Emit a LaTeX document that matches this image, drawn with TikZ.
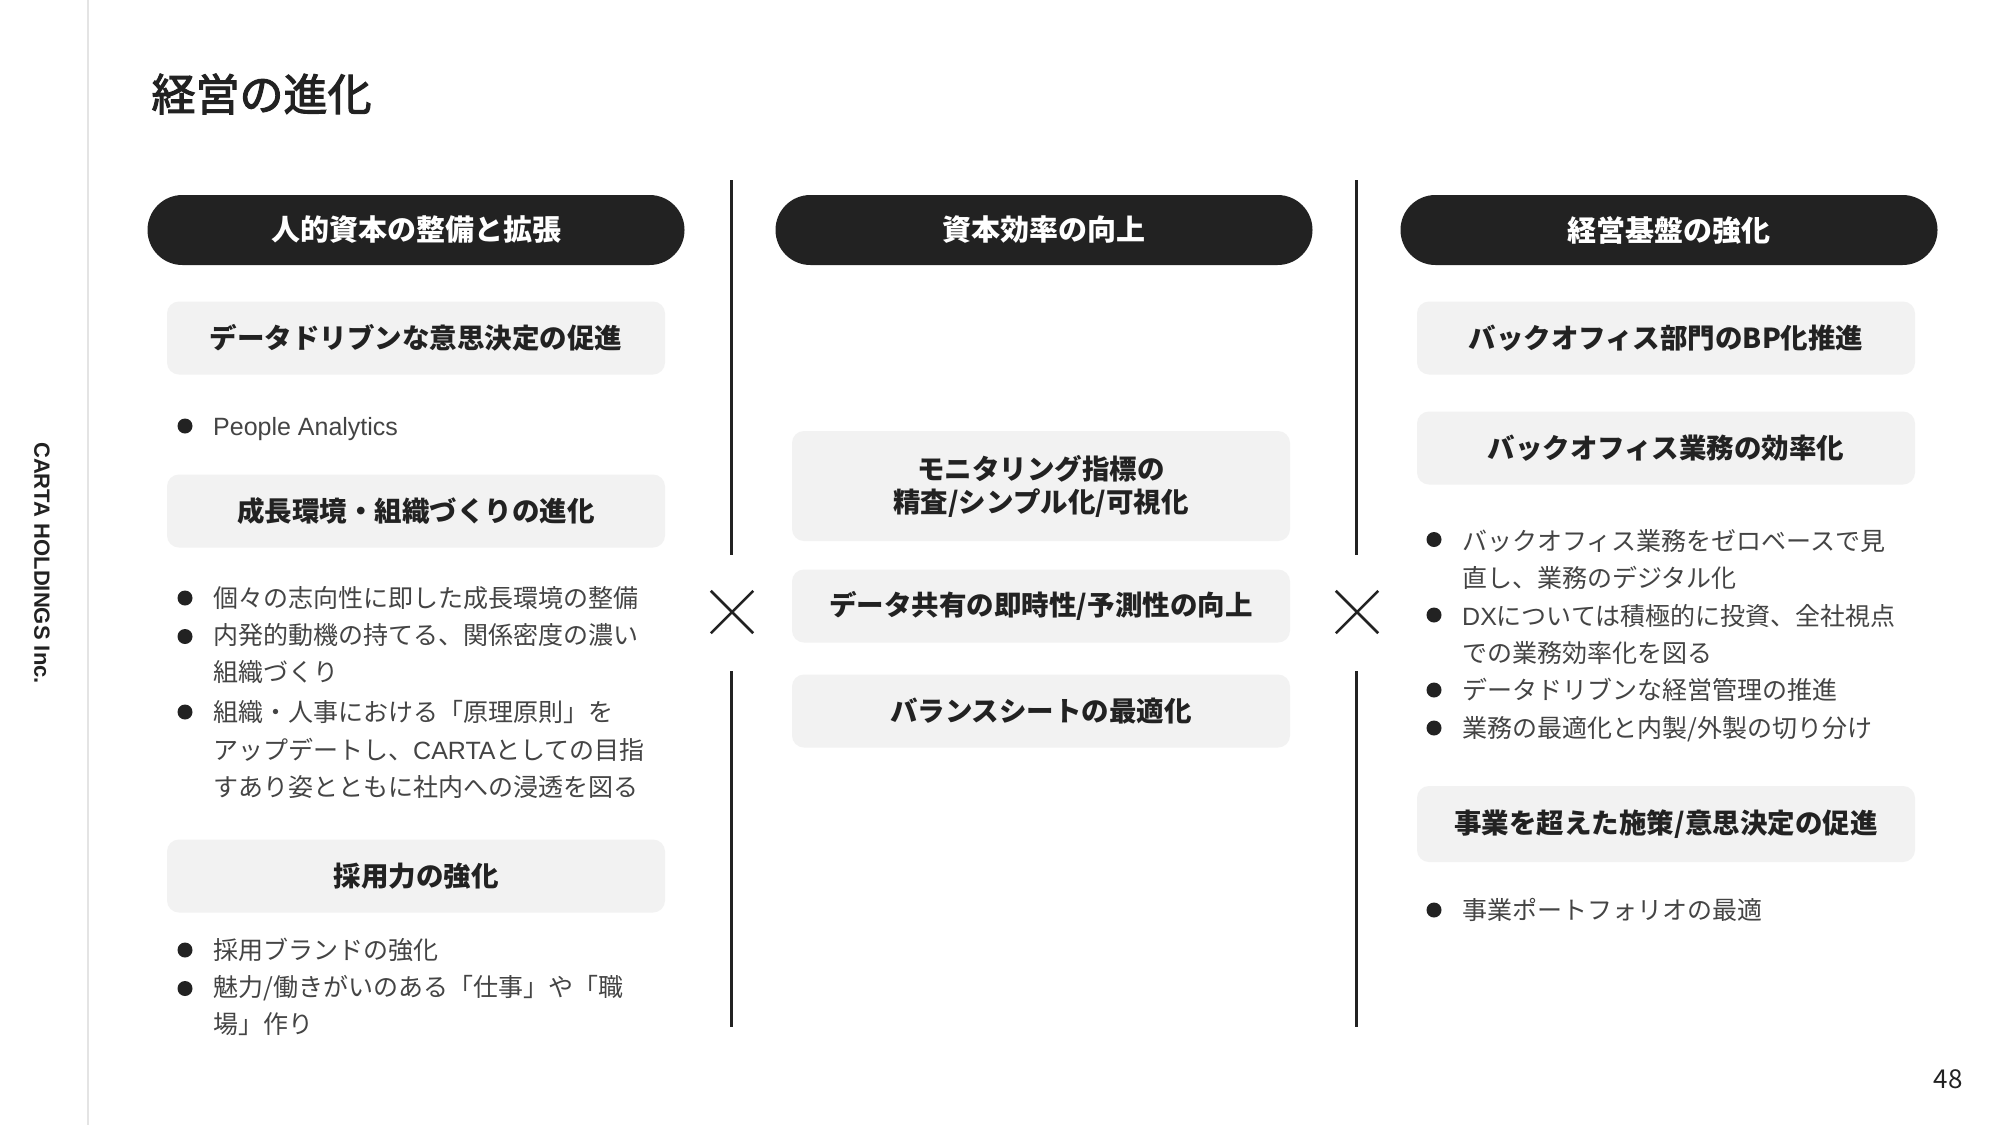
\documentclass[tikz,border=0pt]{standalone}
\usepackage{fontspec}
\setmainfont{Noto Sans CJK JP}
\newfontfamily\latin{Liberation Sans}
\newfontfamily\titlefont[FakeBold=2.5]{Noto Sans CJK JP}
\definecolor{ink}{HTML}{222222}
\definecolor{txt}{HTML}{444444}
\definecolor{boxgray}{HTML}{F2F2F2}
\definecolor{rulegray}{HTML}{E4E4E4}
\tikzset{
  pill/.style={fill=ink, text=white, rounded corners=34.9pt, minimum width=537pt,
    minimum height=70pt, font=\fontsize{29}{35}\selectfont\bfseries},
  tag/.style={fill=boxgray, rounded corners=12pt, minimum width=498pt,
    minimum height=73pt, text=ink, align=center,
    font=\fontsize{27.5}{33}\selectfont\bfseries},
  bul/.style={anchor=base west, align=left, text=txt, inner sep=0pt,
    font=\fontsize{25}{37.5}\selectfont},
  dot/.style={circle, fill=ink, inner sep=0pt, minimum size=15pt},
  divider/.style={draw=ink, line width=3pt},
}
\begin{document}
\begin{tikzpicture}[x=1pt,y=-1pt]
    \fill[white] (0,0) rectangle (2000,1125);
    \useasboundingbox (0,0) rectangle (2000,1125);
    % Side band
    \draw[rulegray, line width=2pt] (88,0) -- (88,1125);
    \node[rotate=-90, text=ink, font=\latin\fontsize{22}{26}\selectfont\bfseries] (corp) at (42,563) {CARTA HOLDINGS Inc.};
    \node[anchor=west, text=ink, font=\titlefont\fontsize{44}{50}\selectfont] (title) at (148,94) {経営の進化};
    \node[text=ink, font=\fontsize{26}{30}\selectfont] (page) at (1948,1079) {48};
    % Headers
    \node[pill] (hl) at (416,230) {人的資本の整備と拡張};
    \node[pill] (hm) at (1044,230) {資本効率の向上};
    \node[pill] (hr) at (1669,230) {経営基盤の強化};
    % Dividers
    \coordinate (d1a) at (731,180); \coordinate (d1b) at (731,555);
    \coordinate (d1c) at (731,671); \coordinate (d1d) at (731,1027);
    \coordinate (d2a) at (1356,180); \coordinate (d2b) at (1356,555);
    \coordinate (d2c) at (1356,671); \coordinate (d2d) at (1356,1027);
    \draw[divider] (d1a) -- (d1b) (d1c) -- (d1d);
    \draw[divider] (d2a) -- (d2b) (d2c) -- (d2d);
    \node[inner sep=0pt, minimum size=42pt] (x1) at (732,612) {};
    \node[inner sep=0pt, minimum size=42pt] (x2) at (1357,612) {};
    \draw[ink, line width=2.5pt] (x1.north west) -- (x1.south east) (x1.north east) -- (x1.south west);
    \draw[ink, line width=2.5pt] (x2.north west) -- (x2.south east) (x2.north east) -- (x2.south west);
    % Left column (multi-line texts sit on the baseline of their last line)
    \node[tag] (l1) at (416,338) {データドリブンな意思決定の促進};
    \node[dot] (l1p) at (185,426) {};
    \node[bul] (l1t) at (213,435.5) {\latin People Analytics};
    \node[tag] (l2) at (416,511) {成長環境・組織づくりの進化};
    \node[dot] (l2p) at (185,598) {};
    \node[bul] (l2t) at (213,607.5) {個々の志向性に即した成長環境の整備};
    \node[dot] (l2q) at (185,636.5) {};
    \node[bul] (l2u) at (213,681.5) {内発的動機の持てる、関係密度の濃い\\組織づくり};
    \node[dot] (l2r) at (185,712) {};
    \node[bul] (l2v) at (213,796.5) {組織・人事における「原理原則」を\\アップデートし、{\latin CARTA}としての目指\\すあり姿とともに社内への浸透を図る};
    \node[tag] (l3) at (416,876) {採用力の強化};
    \node[dot] (l3p) at (185,950) {};
    \node[bul] (l3t) at (213,959.5) {採用ブランドの強化};
    \node[dot] (l3q) at (185,988.5) {};
    \node[bul] (l3u) at (213,1033.5) {魅力/働きがいのある「仕事」や「職\\場」作り};
    % Middle column
    \node[tag, minimum height=110pt] (m1) at (1041,486) {モニタリング指標の\\精査/シンプル化/可視化};
    \node[tag] (m2) at (1041,606) {データ共有の即時性/予測性の向上};
    \node[tag] (m3) at (1041,711) {バランスシートの最適化};
    % Right column
    \node[tag] (r1) at (1666,338) {バックオフィス部門のBP化推進};
    \node[tag] (r2) at (1666,448) {バックオフィス業務の効率化};
    \node[dot] (r2p) at (1434,539.5) {};
    \node[bul] (r2t) at (1462,587.5) {バックオフィス業務をゼロベースで見\\直し、業務のデジタル化};
    \node[dot] (r2q) at (1434,615) {};
    \node[bul] (r2u) at (1462,662.5) {{\latin DX}については積極的に投資、全社視点\\での業務効率化を図る};
    \node[dot] (r2r) at (1434,690) {};
    \node[bul] (r2v) at (1462,699.5) {データドリブンな経営管理の推進};
    \node[dot] (r2s) at (1434,728) {};
    \node[bul] (r2w) at (1462,737.5) {業務の最適化と内製/外製の切り分け};
    \node[tag, minimum height=76pt] (r3) at (1666,824) {事業を超えた施策/意思決定の促進};
    \node[dot] (r3p) at (1434,910) {};
    \node[bul] (r3t) at (1462,919.5) {事業ポートフォリオの最適};
\end{tikzpicture}
\end{document}
